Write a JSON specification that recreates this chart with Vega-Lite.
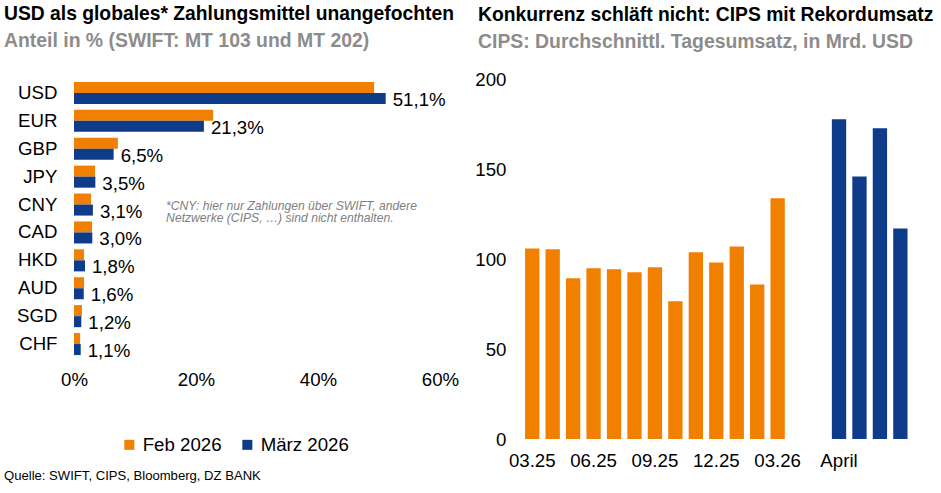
{
  "$schema": "https://vega.github.io/schema/vega-lite/v6.json",
  "background": "white",
  "padding": {"left": 4, "top": 5, "right": 0, "bottom": 0},
  "title": {
    "text": "Quelle: SWIFT, CIPS, Bloomberg, DZ BANK",
    "orient": "bottom",
    "anchor": "start",
    "frame": "bounds",
    "offset": 0,
    "font": "Liberation Sans",
    "fontSize": 13.1,
    "fontWeight": "normal",
    "color": "#000000"
  },
  "config": {
    "font": "Liberation Sans",
    "view": {"stroke": null},
    "axis": {"domain": false, "ticks": false, "grid": false, "title": null, "labelFont": "Liberation Sans", "labelFontSize": 18.67, "labelColor": "#000000"},
    "title": {"anchor": "start", "frame": "group", "font": "Liberation Sans", "fontSize": 19.3, "fontWeight": "bold", "color": "#000000", "subtitleFont": "Liberation Sans", "subtitleFontSize": 19.4, "subtitleFontWeight": "bold", "subtitleColor": "#8C8C8C", "subtitlePadding": 7}
  },
  "resolve": {"scale": {"color": "independent"}},
  "spacing": 15,
  "hconcat": [
    {
      "width": 366,
      "height": 279,
      "title": {"text": "USD als globales* Zahlungsmittel unangefochten", "subtitle": "Anteil in % (SWIFT: MT 103 und MT 202)", "dx": -70, "offset": 29},
      "data": {"values": [
        {"currency": "USD", "series": "Feb 2026", "share": 49.2},
        {"currency": "USD", "series": "März 2026", "share": 51.1, "label": "51,1%"},
        {"currency": "EUR", "series": "Feb 2026", "share": 22.8},
        {"currency": "EUR", "series": "März 2026", "share": 21.3, "label": "21,3%"},
        {"currency": "GBP", "series": "Feb 2026", "share": 7.2},
        {"currency": "GBP", "series": "März 2026", "share": 6.5, "label": "6,5%"},
        {"currency": "JPY", "series": "Feb 2026", "share": 3.45},
        {"currency": "JPY", "series": "März 2026", "share": 3.5, "label": "3,5%"},
        {"currency": "CNY", "series": "Feb 2026", "share": 2.8},
        {"currency": "CNY", "series": "März 2026", "share": 3.1, "label": "3,1%"},
        {"currency": "CAD", "series": "Feb 2026", "share": 2.95},
        {"currency": "CAD", "series": "März 2026", "share": 3.0, "label": "3,0%"},
        {"currency": "HKD", "series": "Feb 2026", "share": 1.65},
        {"currency": "HKD", "series": "März 2026", "share": 1.8, "label": "1,8%"},
        {"currency": "AUD", "series": "Feb 2026", "share": 1.65},
        {"currency": "AUD", "series": "März 2026", "share": 1.6, "label": "1,6%"},
        {"currency": "SGD", "series": "Feb 2026", "share": 1.3},
        {"currency": "SGD", "series": "März 2026", "share": 1.2, "label": "1,2%"},
        {"currency": "CHF", "series": "Feb 2026", "share": 1.0},
        {"currency": "CHF", "series": "März 2026", "share": 1.1, "label": "1,1%"}
      ]},
      "layer": [
        {
          "mark": {"type": "bar"},
          "encoding": {
            "y": {"field": "currency", "type": "nominal", "scale": {"domain": ["USD", "EUR", "GBP", "JPY", "CNY", "CAD", "HKD", "AUD", "SGD", "CHF"], "paddingInner": 0.21, "paddingOuter": 0.105}, "axis": {"labelPadding": 17}},
            "yOffset": {"field": "series", "type": "nominal", "scale": {"domain": ["Feb 2026", "März 2026"]}},
            "x": {"field": "share", "type": "quantitative", "scale": {"domain": [0, 60], "nice": false}, "axis": {"values": [0, 20, 40, 60], "labelExpr": "datum.value + '%'", "labelPadding": 12, "labelFlush": false}},
            "color": {"field": "series", "type": "nominal", "scale": {"domain": ["Feb 2026", "März 2026"], "range": ["#F28000", "#0F3C8A"]}, "legend": {"title": null, "orient": "none", "legendX": 46, "legendY": 356, "direction": "horizontal", "symbolType": "square", "symbolSize": 100, "symbolStrokeWidth": 0, "labelFont": "Liberation Sans", "labelFontSize": 18.67, "labelColor": "#000000", "labelOffset": 4, "columnPadding": 16}}
          }
        },
        {
          "transform": [{"filter": "datum.label != null"}],
          "mark": {"type": "text", "align": "left", "baseline": "middle", "dx": 7, "dy": 1.5, "fontSize": 18.67, "color": "#000000"},
          "encoding": {
            "y": {"field": "currency", "type": "nominal"},
            "yOffset": {"field": "series", "type": "nominal"},
            "x": {"field": "share", "type": "quantitative"},
            "text": {"field": "label", "type": "nominal"}
          }
        },
        {
          "data": {"values": [{"currency": "CNY", "position": 15.1, "note": ["*CNY: hier nur Zahlungen über SWIFT, andere", "Netzwerke (CIPS, …) sind nicht enthalten."]}]},
          "mark": {"type": "text", "align": "left", "baseline": "top", "dy": -5, "fontSize": 12.15, "fontStyle": "italic", "color": "#808080", "lineHeight": 12.6},
          "encoding": {
            "y": {"field": "currency", "type": "nominal"},
            "x": {"field": "position", "type": "quantitative"},
            "text": {"field": "note"}
          }
        }
      ]
    },
    {
      "width": 388.6,
      "height": 360,
      "title": {"text": "Konkurrenz schläft nicht: CIPS mit Rekordumsatz", "subtitle": "CIPS: Durchschnittl. Tagesumsatz, in Mrd. USD", "dx": -44, "offset": 19},
      "data": {"values": [
        {"period": "03.25", "group": "Monat", "volume": 105.9},
        {"period": "04.25", "group": "Monat", "volume": 105.4},
        {"period": "05.25", "group": "Monat", "volume": 89.3},
        {"period": "06.25", "group": "Monat", "volume": 94.8},
        {"period": "07.25", "group": "Monat", "volume": 94.3},
        {"period": "08.25", "group": "Monat", "volume": 92.6},
        {"period": "09.25", "group": "Monat", "volume": 95.4},
        {"period": "10.25", "group": "Monat", "volume": 76.5},
        {"period": "11.25", "group": "Monat", "volume": 103.7},
        {"period": "12.25", "group": "Monat", "volume": 98.1},
        {"period": "01.26", "group": "Monat", "volume": 107.0},
        {"period": "02.26", "group": "Monat", "volume": 85.9},
        {"period": "03.26", "group": "Monat", "volume": 133.7},
        {"period": "April", "group": "April", "volume": 177.6},
        {"period": "April W2", "group": "April", "volume": 145.9},
        {"period": "April W3", "group": "April", "volume": 172.6},
        {"period": "April W4", "group": "April", "volume": 117.0}
      ]},
      "mark": {"type": "bar"},
      "encoding": {
        "x": {"field": "period", "type": "ordinal", "scale": {"domain": ["03.25", "04.25", "05.25", "06.25", "07.25", "08.25", "09.25", "10.25", "11.25", "12.25", "01.26", "02.26", "03.26", "gap 1", "gap 2", "April", "April W2", "April W3", "April W4"], "paddingInner": 0.3, "paddingOuter": 0.15}, "axis": {"values": ["03.25", "06.25", "09.25", "12.25", "03.26", "April"], "labelAngle": 0, "labelPadding": 12}},
        "y": {"field": "volume", "type": "quantitative", "scale": {"domain": [0, 200], "nice": false}, "axis": {"values": [0, 50, 100, 150, 200], "labelPadding": 16}},
        "color": {"field": "group", "type": "nominal", "scale": {"domain": ["Monat", "April"], "range": ["#F28000", "#0F3C8A"]}, "legend": null}
      }
    }
  ]
}
